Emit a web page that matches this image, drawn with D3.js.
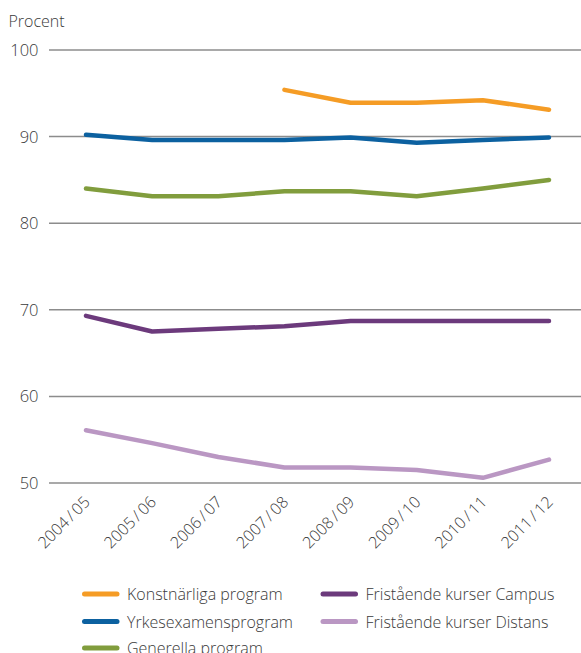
<!DOCTYPE html>
<html><head><meta charset="utf-8">
<script src="https://cdn.jsdelivr.net/npm/d3@7"></script>
<style>
body{margin:0;background:#fff;}
text{font-family:"Open Sans",Lato,sans-serif;font-weight:300;fill:#3a3a3a;}
</style></head><body>
<svg id="c" width="581" height="653"></svg>
<script>
const years = ["2004/05","2005/06","2006/07","2007/08","2008/09","2009/10","2010/11","2011/12"];
const yTicks = [50,60,70,80,90,100];
const konst = [null,null,null,95.4,93.9,93.9,94.2,93.1];
const yrke = [90.2,89.6,89.6,89.6,89.9,89.3,89.6,89.9];
const gen = [84.0,83.1,83.1,83.7,83.7,83.1,84.0,85.0];
const campus = [69.3,67.5,67.8,68.1,68.7,68.7,68.7,68.7];
const distans = [56.1,54.6,53.0,51.8,51.8,51.5,50.6,52.7];
const seriesNames = ["Konstnärliga program","Yrkesexamensprogram","Generella program","Fristående kurser Campus","Fristående kurser Distans"];
const colors = ["#F59C25","#0C61A0","#819D3D","#6C3A7C","#BA97C3"];
const seriesVals = [konst,yrke,gen,campus,distans];

const svg = d3.select("#c");
const x = d3.scalePoint().domain(years).range([86,549]);
const y = d3.scaleLinear().domain([50,100]).range([483,50]);

const g = svg.append("g");
g.selectAll("line.grid").data(yTicks).join("line")
  .attr("x1",49).attr("x2",581)
  .attr("y1",d=>y(d)).attr("y2",d=>y(d))
  .attr("stroke","#8c8c8c").attr("stroke-width",1.5);
g.selectAll("text.yl").data(yTicks).join("text")
  .attr("x",38.5).attr("y",d=>y(d)+6)
  .attr("text-anchor","end").attr("font-size",16.5).text(d=>d);

svg.append("text").attr("x",8.5).attr("y",26.5).attr("font-size",16).text("Procent");

g.selectAll("text.xl").data(years).join("text")
  .attr("text-anchor","end").attr("font-size",16)
  .attr("transform",d=>`translate(${x(d)+5},${503}) rotate(-45)`)
  .text(d=>d.replace("/","\u2009/\u2009"));

const line = d3.line().defined(d=>d.v!=null).x(d=>x(d.yr)).y(d=>y(d.v));
seriesVals.forEach((vals,i)=>{
  svg.append("path")
    .datum(vals.map((v,j)=>({yr:years[j],v})))
    .attr("d",line).attr("fill","none")
    .attr("stroke",colors[i]).attr("stroke-width",4.5)
    .attr("stroke-linecap","round").attr("stroke-linejoin","round");
});

const legPos = [[82,594],[82,621.5],[82,648],[320.5,594],[320.5,621.5]];
seriesNames.forEach((n,i)=>{
  const [lx,ly]=legPos[i];
  svg.append("line").attr("x1",lx+2.5).attr("x2",lx+35).attr("y1",ly).attr("y2",ly)
    .attr("stroke",colors[i]).attr("stroke-width",5).attr("stroke-linecap","round");
  svg.append("text").attr("x",lx+45).attr("y",ly+6).attr("font-size",16).text(n);
});
</script></body></html>
